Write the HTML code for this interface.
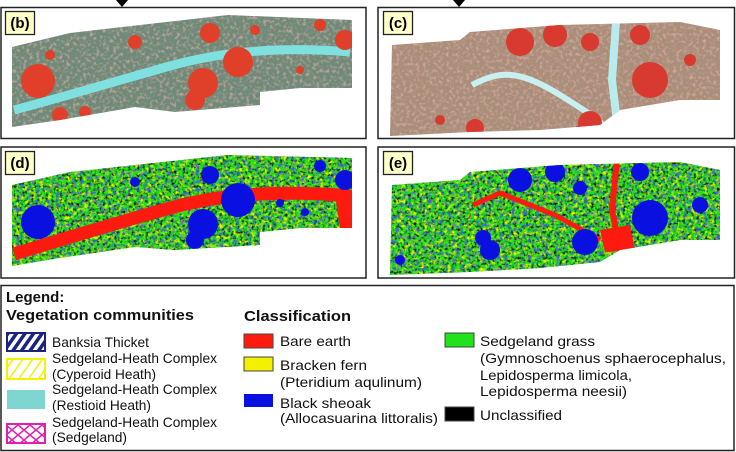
<!DOCTYPE html>
<html><head><meta charset="utf-8"><style>
html,body{margin:0;padding:0;background:#fff;}
svg{display:block;font-family:"Liberation Sans",Arial,sans-serif;}
</style></head><body>
<svg width="736" height="452" viewBox="0 0 736 452">
<defs>
<filter id="spk" x="0" y="0" width="1" height="1"><feTurbulence type="fractalNoise" baseFrequency="0.3" numOctaves="2" seed="3"/><feColorMatrix type="matrix" values="0 0 0 0 0.8  0 0 0 0 0.45  0 0 0 0 0.42  0 0 0 2 -0.95"/><feComposite in2="SourceGraphic" operator="in"/></filter>
<filter id="spkd" x="0" y="0" width="1" height="1"><feTurbulence type="fractalNoise" baseFrequency="0.25" numOctaves="2" seed="7"/><feColorMatrix type="matrix" values="0 0 0 0 0.95  0 0 0 0 0.95  0 0 0 0 0  0 0 0 3 -1.35"/><feComposite in2="SourceGraphic" operator="in"/></filter>
<filter id="spkk" x="0" y="0" width="1" height="1"><feTurbulence type="fractalNoise" baseFrequency="0.35" numOctaves="2" seed="11"/><feColorMatrix type="matrix" values="0 0 0 0 0  0 0 0 0 0  0 0 0 0 0  0 0 0 3 -1.45"/><feComposite in2="SourceGraphic" operator="in"/></filter>
<filter id="spkb" x="0" y="0" width="1" height="1"><feTurbulence type="fractalNoise" baseFrequency="0.25" numOctaves="2" seed="21"/><feColorMatrix type="matrix" values="0 0 0 0 0.05  0 0 0 0 0.1  0 0 0 0 0.8  0 0 0 3 -1.45"/><feComposite in2="SourceGraphic" operator="in"/></filter>
<pattern id="hatchB" width="7" height="7" patternUnits="userSpaceOnUse" patternTransform="rotate(35)"><rect width="7" height="7" fill="#fff"/><rect width="3.5" height="7" fill="#1a237e"/></pattern>
<pattern id="hatchY" width="8" height="8" patternUnits="userSpaceOnUse" patternTransform="rotate(35)"><rect width="8" height="8" fill="#fff"/><rect width="1.5" height="8" fill="#f5f000"/></pattern>
<pattern id="cross" width="12" height="10" patternUnits="userSpaceOnUse"><rect width="12" height="10" fill="#fff"/><path d="M0 0L12 10M12 0L0 10" stroke="#e020b0" stroke-width="1.5"/></pattern>
<clipPath id="clipB"><polygon points="12,47 70,33 228,15 352,20 352,88 300,88 260,92 260,105 175,112 135,107 60,120 12,127"/></clipPath>
<clipPath id="clipC"><polygon points="392,45 460,40 470,32 560,25 680,22 720,30 720,100 680,100 620,110 600,125 540,130 470,132 390,136"/></clipPath>
<clipPath id="clipD"><polygon points="12,185 70,172 228,155 352,158 352,228 300,228 260,232 260,245 175,250 135,247 60,258 12,266"/></clipPath>
<clipPath id="clipE"><polygon points="392,185 460,180 470,172 560,165 680,162 720,170 720,240 680,240 620,250 600,262 540,268 470,272 390,275"/></clipPath>
</defs>

<polygon points="116,0 128,0 122,7" fill="#000"/>
<polygon points="453,0 465,0 459,7" fill="#000"/>

<g>
<rect x="1" y="7.5" width="365" height="131" fill="#fff" stroke="#222" stroke-width="1.5"/>
<g clip-path="url(#clipB)">
<rect x="10" y="10" width="345" height="120" fill="#6f8a78"/>
<rect x="10" y="10" width="345" height="120" fill="#000" filter="url(#spk)"/>
<path d="M14,110 C60,98 120,80 170,66 S280,46 350,52" stroke="#7fe0e0" stroke-width="9" fill="none"/>
<g fill="#e0402a">
<circle cx="38" cy="81" r="17"/><circle cx="203" cy="83" r="15"/><circle cx="195" cy="100" r="10"/><circle cx="238" cy="62" r="15"/><circle cx="210" cy="33" r="10"/><circle cx="345" cy="40" r="10"/><circle cx="320" cy="25" r="6"/><circle cx="135" cy="42" r="7"/><circle cx="50" cy="55" r="5"/><circle cx="255" cy="30" r="5"/><circle cx="60" cy="115" r="8"/><circle cx="85" cy="112" r="6"/><circle cx="300" cy="70" r="4"/>
</g></g>
</g>

<g>
<rect x="378" y="7.5" width="356.5" height="131" fill="#fff" stroke="#222" stroke-width="1.5"/>
<g clip-path="url(#clipC)">
<rect x="385" y="15" width="340" height="125" fill="#a98e7a"/>
<rect x="385" y="15" width="340" height="125" fill="#000" filter="url(#spk)"/>
<path d="M472,85 C500,70 520,70 560,95 S600,120 610,135" stroke="#c8f0f0" stroke-width="6" fill="none"/>
<path d="M616,22 L612,80 L618,130" stroke="#b8ecec" stroke-width="8" fill="none"/>
<g fill="#d83a30">
<circle cx="650" cy="80" r="18"/><circle cx="585" cy="135" r="12"/><circle cx="590" cy="123" r="12"/><circle cx="487" cy="142" r="10"/><circle cx="475" cy="128" r="9"/><circle cx="520" cy="42" r="14"/><circle cx="555" cy="35" r="12"/><circle cx="590" cy="42" r="9"/><circle cx="640" cy="35" r="10"/><circle cx="690" cy="60" r="6"/><circle cx="440" cy="120" r="5"/>
</g></g>
</g>

<g>
<rect x="1" y="147" width="365" height="131" fill="#fff" stroke="#222" stroke-width="1.5"/>
<g clip-path="url(#clipD)">
<rect x="10" y="150" width="345" height="120" fill="#22e21c"/>
<rect x="10" y="150" width="345" height="120" fill="#000" filter="url(#spkd)"/>
<rect x="10" y="150" width="345" height="120" fill="#000" filter="url(#spkk)"/>
<rect x="10" y="150" width="345" height="120" fill="#000" filter="url(#spkb)"/>
<path d="M14,254 C60,240 120,222 170,208 S280,190 350,196" stroke="#ff1a10" stroke-width="13" fill="none"/>
<polygon points="335,195 352,190 352,228 340,228" fill="#ff1a10"/>
<g fill="#0a10e0">
<circle cx="38" cy="222" r="17"/><circle cx="203" cy="224" r="15"/><circle cx="195" cy="240" r="9"/><circle cx="238" cy="200" r="17"/><circle cx="210" cy="175" r="9"/><circle cx="345" cy="180" r="10"/><circle cx="320" cy="166" r="6"/><circle cx="135" cy="182" r="5"/><circle cx="280" cy="203" r="4"/><circle cx="305" cy="212" r="4"/>
</g></g>
</g>

<g>
<rect x="378" y="147" width="356.5" height="131" fill="#fff" stroke="#222" stroke-width="1.5"/>
<g clip-path="url(#clipE)">
<rect x="385" y="155" width="340" height="125" fill="#22e21c"/>
<rect x="385" y="155" width="340" height="125" fill="#000" filter="url(#spkd)"/>
<rect x="385" y="155" width="340" height="125" fill="#000" filter="url(#spkk)"/>
<rect x="385" y="155" width="340" height="125" fill="#000" filter="url(#spkb)"/>
<path d="M473,205 L500,193 L555,215 L600,240" stroke="#ff1a10" stroke-width="5" fill="none"/>
<path d="M617,160 L612,210 L620,250" stroke="#ff1a10" stroke-width="6" fill="none"/>
<polygon points="600,230 630,225 635,250 605,252" fill="#ff1a10"/>
<g fill="#0a10e0">
<circle cx="650" cy="218" r="18"/><circle cx="585" cy="242" r="13"/><circle cx="490" cy="250" r="10"/><circle cx="483" cy="238" r="8"/><circle cx="520" cy="180" r="12"/><circle cx="555" cy="172" r="10"/><circle cx="580" cy="188" r="7"/><circle cx="640" cy="172" r="9"/><circle cx="700" cy="205" r="8"/><circle cx="400" cy="260" r="5"/>
</g></g>
</g>

<g><rect x="5.5" y="11.5" width="29" height="23" fill="#ffffc8" stroke="#222" stroke-width="1.3"/><text x="20" y="28" text-anchor="middle" font-size="15" font-weight="bold">(b)</text></g>
<g><rect x="383.5" y="11.5" width="29" height="23" fill="#ffffc8" stroke="#222" stroke-width="1.3"/><text x="398" y="28" text-anchor="middle" font-size="15" font-weight="bold">(c)</text></g>
<g><rect x="5.5" y="151.5" width="29" height="23" fill="#ffffc8" stroke="#222" stroke-width="1.3"/><text x="20" y="168" text-anchor="middle" font-size="15" font-weight="bold">(d)</text></g>
<g><rect x="383.5" y="151.5" width="29" height="23" fill="#ffffc8" stroke="#222" stroke-width="1.3"/><text x="398" y="168" text-anchor="middle" font-size="15" font-weight="bold">(e)</text></g>

<g font-size="14" fill="#111">
<rect x="1" y="285.5" width="733" height="165" fill="#fff" stroke="#222" stroke-width="1.5"/>
<text x="6" y="302" font-size="15" font-weight="bold">Legend:</text>
<text x="6" y="320" font-size="15" font-weight="bold" textLength="188" lengthAdjust="spacingAndGlyphs">Vegetation communities</text>
<text x="244" y="321" font-size="15" font-weight="bold" textLength="107" lengthAdjust="spacingAndGlyphs">Classification</text>

<g><rect x="7" y="333" width="38" height="18" fill="url(#hatchB)" stroke="#1a237e" stroke-width="2"/><text x="52" y="347" textLength="97" lengthAdjust="spacingAndGlyphs">Banksia Thicket</text></g>
<g><rect x="7" y="359" width="38" height="20" fill="url(#hatchY)" stroke="#f5f000" stroke-width="2"/><text x="52" y="363" textLength="165" lengthAdjust="spacingAndGlyphs">Sedgeland-Heath Complex</text><text x="52" y="379" textLength="104" lengthAdjust="spacingAndGlyphs">(Cyperoid Heath)</text></g>
<g><rect x="7" y="390" width="38" height="19" fill="#7fd6d0"/><text x="52" y="394" textLength="165" lengthAdjust="spacingAndGlyphs">Sedgeland-Heath Complex</text><text x="52" y="410" textLength="99" lengthAdjust="spacingAndGlyphs">(Restioid Heath)</text></g>
<g><rect x="7" y="424" width="38" height="19" fill="url(#cross)" stroke="#e020b0" stroke-width="2"/><text x="52" y="427" textLength="165" lengthAdjust="spacingAndGlyphs">Sedgeland-Heath Complex</text><text x="52" y="442" textLength="75" lengthAdjust="spacingAndGlyphs">(Sedgeland)</text></g>

<g><rect x="244" y="334" width="29" height="14" fill="#ff1a10" stroke="#444"/><text x="280" y="346" textLength="71" lengthAdjust="spacingAndGlyphs">Bare earth</text></g>
<g><rect x="244" y="357" width="29" height="14" fill="#f5f000" stroke="#444"/><text x="280" y="370" textLength="87" lengthAdjust="spacingAndGlyphs">Bracken fern</text><text x="280" y="387" textLength="142" lengthAdjust="spacingAndGlyphs">(Pteridium aqulinum)</text></g>
<g><rect x="244" y="394" width="29" height="13" fill="#0a10e0"/><text x="280" y="408" textLength="91" lengthAdjust="spacingAndGlyphs">Black sheoak</text><text x="280" y="423" textLength="158" lengthAdjust="spacingAndGlyphs">(Allocasuarina littoralis)</text></g>

<g><rect x="445" y="333" width="29" height="14" fill="#22e21c" stroke="#444"/><text x="480" y="346" textLength="115" lengthAdjust="spacingAndGlyphs">Sedgeland grass</text><text x="480" y="363" textLength="246" lengthAdjust="spacingAndGlyphs">(Gymnoschoenus sphaerocephalus,</text><text x="480" y="380" textLength="152" lengthAdjust="spacingAndGlyphs">Lepidosperma limicola,</text><text x="480" y="396" textLength="147" lengthAdjust="spacingAndGlyphs">Lepidosperma neesii)</text></g>
<g><rect x="445" y="407" width="29" height="14" fill="#000" stroke="#444"/><text x="480" y="420" textLength="82" lengthAdjust="spacingAndGlyphs">Unclassified</text></g>
</g>
</svg>
</body></html>
